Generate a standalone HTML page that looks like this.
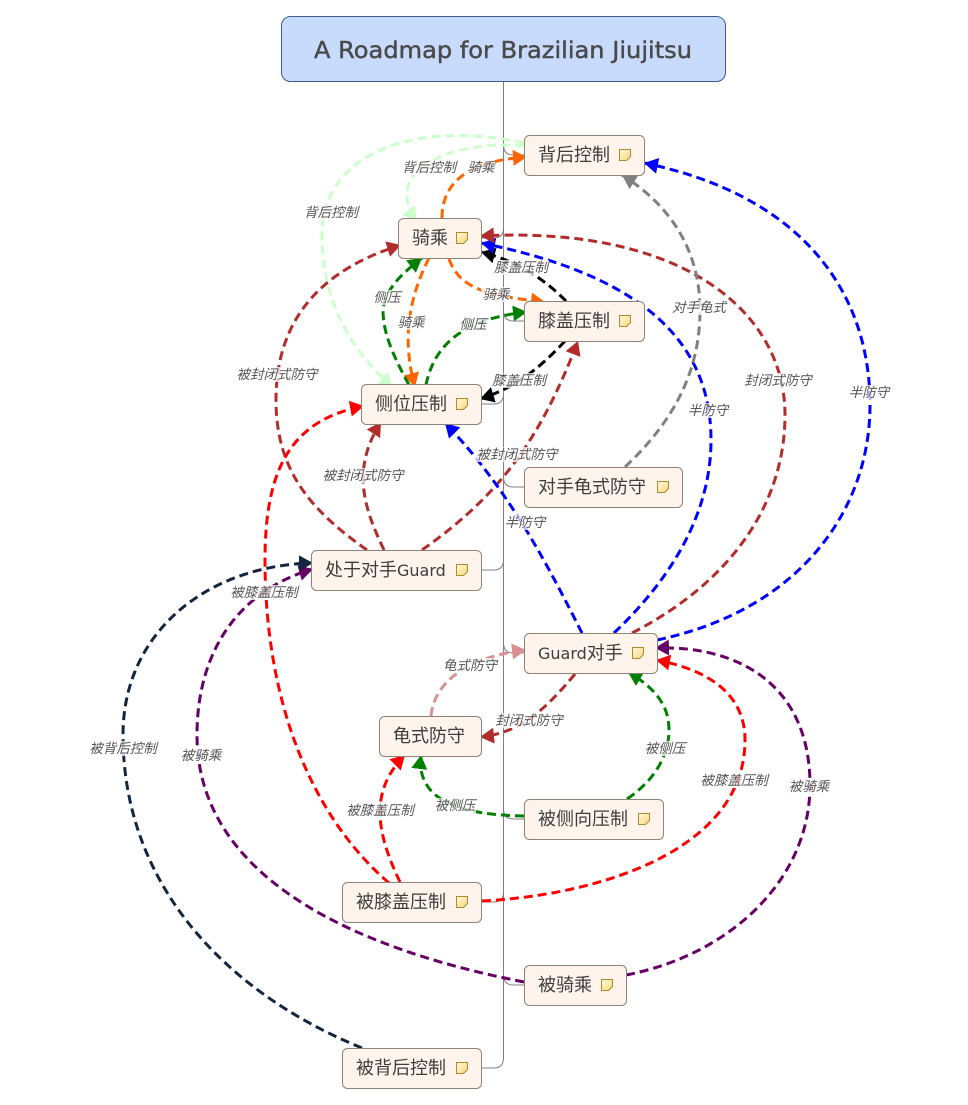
<!DOCTYPE html>
<html><head><meta charset="utf-8"><style>
html,body{margin:0;padding:0;background:#fff}
svg{display:block}
.n{fill:#fef4ec;stroke:#8f8279;stroke-width:1}
.t{font:18px "Noto Sans CJK SC","Liberation Sans",sans-serif;fill:#3d3d3d}
.g{font:16px "DejaVu Sans","Liberation Sans",sans-serif}
.l{font:italic 13.5px "Noto Sans CJK SC","Liberation Sans",sans-serif;fill:#555;text-anchor:middle}
.c{fill:none;stroke-width:3;stroke-dasharray:9 5}
.s{fill:none;stroke:#808080;stroke-width:1}
.h{fill:#fff;opacity:.75}
.i{fill:url(#ng);stroke:#b08a2e;stroke-width:1}
</style></head><body>
<svg xmlns="http://www.w3.org/2000/svg" width="968" height="1105" viewBox="0 0 968 1105">
<defs>
<linearGradient id="ng" x1="0" y1="0" x2="1" y2="1"><stop offset="0" stop-color="#fff8dc"/><stop offset="1" stop-color="#f6d77e"/></linearGradient>
<marker id="mO" markerUnits="userSpaceOnUse" markerWidth="15" markerHeight="16" refX="14" refY="8" orient="auto"><path d="M0,0L14,8L0,16z" fill="#ff6600"/></marker>
<marker id="mLG" markerUnits="userSpaceOnUse" markerWidth="15" markerHeight="16" refX="14" refY="8" orient="auto"><path d="M0,0L14,8L0,16z" fill="#ccffcc"/></marker>
<marker id="mG" markerUnits="userSpaceOnUse" markerWidth="15" markerHeight="16" refX="14" refY="8" orient="auto"><path d="M0,0L14,8L0,16z" fill="#008000"/></marker>
<marker id="mK" markerUnits="userSpaceOnUse" markerWidth="15" markerHeight="16" refX="14" refY="8" orient="auto"><path d="M0,0L14,8L0,16z" fill="#000"/></marker>
<marker id="mBr" markerUnits="userSpaceOnUse" markerWidth="15" markerHeight="16" refX="14" refY="8" orient="auto"><path d="M0,0L14,8L0,16z" fill="#b22c2c"/></marker>
<marker id="mB" markerUnits="userSpaceOnUse" markerWidth="15" markerHeight="16" refX="14" refY="8" orient="auto"><path d="M0,0L14,8L0,16z" fill="#0000ff"/></marker>
<marker id="mGy" markerUnits="userSpaceOnUse" markerWidth="15" markerHeight="16" refX="14" refY="8" orient="auto"><path d="M0,0L14,8L0,16z" fill="#808080"/></marker>
<marker id="mP" markerUnits="userSpaceOnUse" markerWidth="15" markerHeight="16" refX="14" refY="8" orient="auto"><path d="M0,0L14,8L0,16z" fill="#d89090"/></marker>
<marker id="mR" markerUnits="userSpaceOnUse" markerWidth="15" markerHeight="16" refX="14" refY="8" orient="auto"><path d="M0,0L14,8L0,16z" fill="#ff0000"/></marker>
<marker id="mV" markerUnits="userSpaceOnUse" markerWidth="15" markerHeight="16" refX="14" refY="8" orient="auto"><path d="M0,0L14,8L0,16z" fill="#660066"/></marker>
<marker id="mN" markerUnits="userSpaceOnUse" markerWidth="15" markerHeight="16" refX="14" refY="8" orient="auto"><path d="M0,0L14,8L0,16z" fill="#13263f"/></marker>
</defs>

<!-- trunk and branches -->
<path class="s" d="M503.5,81V1058q0,10 -10,10H482"/>
<path class="s" d="M503.5,145q0,10 10,10H525"/>
<path class="s" d="M503.5,228q0,10 -10,10H482"/>
<path class="s" d="M503.5,311q0,10 10,10H525"/>
<path class="s" d="M503.5,394q0,10 -10,10H482"/>
<path class="s" d="M503.5,477q0,10 10,10H525"/>
<path class="s" d="M503.5,560q0,10 -10,10H482"/>
<path class="s" d="M503.5,643q0,10 10,10H525"/>
<path class="s" d="M503.5,809q0,10 10,10H525"/>
<path class="s" d="M503.5,892q0,10 -10,10H482"/>
<path class="s" d="M503.5,975q0,10 10,10H525"/>

<!-- connectors -->
<g class="c">
<path style="stroke:#ccffcc" marker-end="url(#mLG)" d="M524,143C420,120 322,150 322,235C322,300 350,350 393,387"/>
<path style="stroke:#ccffcc" marker-end="url(#mLG)" d="M524,146C470,140 405,160 407,195C407,205 410,212 417,221"/>
<path style="stroke:#ff6600" marker-end="url(#mO)" d="M442,218C442,175 480,160 527,157"/>
<path style="stroke:#ff6600" marker-end="url(#mO)" d="M449,259C460,290 490,296 545,302"/>
<path style="stroke:#ff6600" marker-end="url(#mO)" d="M429,258C408,300 402,340 415,387"/>
<path style="stroke:#008000" marker-end="url(#mG)" d="M409,385C390,350 383,330 383,310C385,290 400,275 422,258"/>
<path style="stroke:#008000" marker-end="url(#mG)" d="M426,385C435,340 470,318 527,312"/>
<path style="stroke:#000" marker-end="url(#mK)" d="M566,301C545,280 520,262 481,252"/>
<path style="stroke:#000" marker-end="url(#mK)" d="M565,341C540,368 515,388 480,399"/>
<path style="stroke:#b22c2c" marker-end="url(#mBr)" d="M367,550C310,510 276,470 276,400C276,320 320,270 401,245"/>
<path style="stroke:#b22c2c" marker-end="url(#mBr)" d="M384,550C365,510 350,470 381,422"/>
<path style="stroke:#b22c2c" marker-end="url(#mBr)" d="M422,550C500,495 540,440 578,341"/>
<path style="stroke:#0000ff" marker-end="url(#mB)" d="M582,633C550,570 510,490 445,423"/>
<path style="stroke:#0000ff" marker-end="url(#mB)" d="M614,633C675,575 711,510 711,440C711,340 640,275 481,243"/>
<path style="stroke:#0000ff" marker-end="url(#mB)" d="M657,640C800,610 870,510 870,405C870,290 800,195 644,163"/>
<path style="stroke:#b22c2c" marker-end="url(#mBr)" d="M632,633C735,580 785,500 785,415C785,310 680,225 480,236"/>
<path style="stroke:#b22c2c" marker-end="url(#mBr)" d="M575,674C545,710 520,733 480,737"/>
<path style="stroke:#808080" marker-end="url(#mGy)" d="M625,467C675,420 700,370 700,310C700,250 670,205 622,175"/>
<path style="stroke:#d89090" marker-end="url(#mP)" d="M431,716C435,675 480,655 526,650"/>
<path style="stroke:#008000" marker-end="url(#mG)" d="M627,799C655,780 669,755 669,730C669,705 655,688 628,672"/>
<path style="stroke:#008000" marker-end="url(#mG)" d="M524,816C470,815 415,805 421,755"/>
<path style="stroke:#ff0000" marker-end="url(#mR)" d="M400,882C375,830 370,790 405,755"/>
<path style="stroke:#ff0000" marker-end="url(#mR)" d="M389,883C310,815 265,700 265,560C265,470 290,420 364,406"/>
<path style="stroke:#ff0000" marker-end="url(#mR)" d="M482,901C600,895 745,850 745,740C745,695 710,670 656,660"/>
<path style="stroke:#660066" marker-end="url(#mV)" d="M626,975C730,955 810,880 810,785C810,690 745,645 655,648"/>
<path style="stroke:#660066" marker-end="url(#mV)" d="M524,982C360,950 197,880 197,735C197,650 240,590 313,569"/>
<path style="stroke:#13263f" marker-end="url(#mN)" d="M362,1048C220,990 123,880 123,735C123,630 210,565 313,563"/>
</g>

<!-- labels -->
<g>
<rect class="h" x="401" y="160" width="56" height="15"/><text class="l" x="429" y="172">背后控制</text>
<rect class="h" x="466" y="160" width="29" height="15"/><text class="l" x="481" y="172">骑乘</text>
<rect class="h" x="303" y="205" width="56" height="15"/><text class="l" x="331" y="217">背后控制</text>
<rect class="h" x="493" y="260" width="56" height="15"/><text class="l" x="521" y="272">膝盖压制</text>
<rect class="h" x="481" y="287" width="29" height="15"/><text class="l" x="496" y="299">骑乘</text>
<rect class="h" x="373" y="290" width="29" height="15"/><text class="l" x="387" y="302">侧压</text>
<rect class="h" x="397" y="315" width="29" height="15"/><text class="l" x="411" y="327">骑乘</text>
<rect class="h" x="459" y="317" width="29" height="15"/><text class="l" x="473" y="329">侧压</text>
<rect class="h" x="671" y="300" width="56" height="15"/><text class="l" x="699" y="312">对手龟式</text>
<rect class="h" x="235" y="367" width="84" height="15"/><text class="l" x="277" y="379">被封闭式防守</text>
<rect class="h" x="743" y="373" width="70" height="15"/><text class="l" x="778" y="385">封闭式防守</text>
<rect class="h" x="491" y="373" width="56" height="15"/><text class="l" x="519" y="385">膝盖压制</text>
<rect class="h" x="849" y="385" width="41" height="15"/><text class="l" x="869" y="397">半防守</text>
<rect class="h" x="687" y="403" width="42" height="15"/><text class="l" x="708" y="415">半防守</text>
<rect class="h" x="475" y="447" width="84" height="15"/><text class="l" x="517" y="459">被封闭式防守</text>
<rect class="h" x="321" y="468" width="84" height="15"/><text class="l" x="363" y="480">被封闭式防守</text>
<rect class="h" x="504" y="515" width="42" height="15"/><text class="l" x="525" y="527">半防守</text>
<rect class="h" x="229" y="585" width="70" height="15"/><text class="l" x="264" y="597">被膝盖压制</text>
<rect class="h" x="442" y="658" width="56" height="15"/><text class="l" x="470" y="670">龟式防守</text>
<rect class="h" x="494" y="713" width="70" height="15"/><text class="l" x="529" y="725">封闭式防守</text>
<rect class="h" x="88" y="741" width="70" height="15"/><text class="l" x="123" y="753">被背后控制</text>
<rect class="h" x="644" y="741" width="42" height="15"/><text class="l" x="665" y="753">被侧压</text>
<rect class="h" x="180" y="748" width="42" height="15"/><text class="l" x="201" y="760">被骑乘</text>
<rect class="h" x="699" y="773" width="70" height="15"/><text class="l" x="734" y="785">被膝盖压制</text>
<rect class="h" x="788" y="779" width="42" height="15"/><text class="l" x="809" y="791">被骑乘</text>
<rect class="h" x="434" y="798" width="42" height="15"/><text class="l" x="455" y="810">被侧压</text>
<rect class="h" x="345" y="803" width="70" height="15"/><text class="l" x="380" y="815">被膝盖压制</text>
</g>

<!-- title -->
<rect x="281.5" y="16.5" width="444" height="65" rx="9" fill="#c9dbfd" stroke="#3e5a8e"/>
<text x="314" y="58" textLength="378" lengthAdjust="spacingAndGlyphs" stroke="#4a4a4a" stroke-width=".45" style="font:23px 'DejaVu Sans','Liberation Sans',sans-serif;fill:#4a4a4a">A Roadmap for Brazilian Jiujitsu</text>

<!-- nodes -->
<rect class="n" x="524.5" y="135.5" width="120" height="40" rx="5"/><text class="t" x="538" y="161">背后控制</text>
<path class="i" d="M619.5,149.5h11v7l-4,4h-7z"/>
<rect class="n" x="398.5" y="218.5" width="83" height="40" rx="5"/><text class="t" x="412" y="244">骑乘</text>
<path class="i" d="M456.5,232.5h11v7l-4,4h-7z"/>
<rect class="n" x="524.5" y="301.5" width="120" height="40" rx="5"/><text class="t" x="538" y="327">膝盖压制</text>
<path class="i" d="M619.5,315.5h11v7l-4,4h-7z"/>
<rect class="n" x="361.5" y="384.5" width="120" height="40" rx="5"/><text class="t" x="375" y="410">侧位压制</text>
<path class="i" d="M456.5,398.5h11v7l-4,4h-7z"/>
<rect class="n" x="524.5" y="467.5" width="158" height="40" rx="5"/><text class="t" x="538" y="493">对手龟式防守</text>
<path class="i" d="M657.5,481.5h11v7l-4,4h-7z"/>
<rect class="n" x="311.5" y="550.5" width="170" height="40" rx="5"/><text class="t" x="325" y="576">处于对手<tspan class="g">Guard</tspan></text>
<path class="i" d="M456.5,564.5h11v7l-4,4h-7z"/>
<rect class="n" x="524.5" y="633.5" width="133" height="40" rx="5"/><text class="t" x="538" y="659"><tspan class="g">Guard</tspan>对手</text>
<path class="i" d="M632.5,647.5h11v7l-4,4h-7z"/>
<rect class="n" x="379.5" y="716.5" width="102" height="40" rx="5"/><text class="t" x="393" y="742">龟式防守</text>
<rect class="n" x="524.5" y="799.5" width="139" height="40" rx="5"/><text class="t" x="538" y="825">被侧向压制</text>
<path class="i" d="M638.5,813.5h11v7l-4,4h-7z"/>
<rect class="n" x="342.5" y="882.5" width="139" height="40" rx="5"/><text class="t" x="356" y="908">被膝盖压制</text>
<path class="i" d="M456.5,896.5h11v7l-4,4h-7z"/>
<rect class="n" x="524.5" y="965.5" width="102" height="40" rx="5"/><text class="t" x="538" y="991">被骑乘</text>
<path class="i" d="M601.5,979.5h11v7l-4,4h-7z"/>
<rect class="n" x="342.5" y="1048.5" width="139" height="40" rx="5"/><text class="t" x="356" y="1074">被背后控制</text>
<path class="i" d="M456.5,1062.5h11v7l-4,4h-7z"/>
</svg>
</body></html>
